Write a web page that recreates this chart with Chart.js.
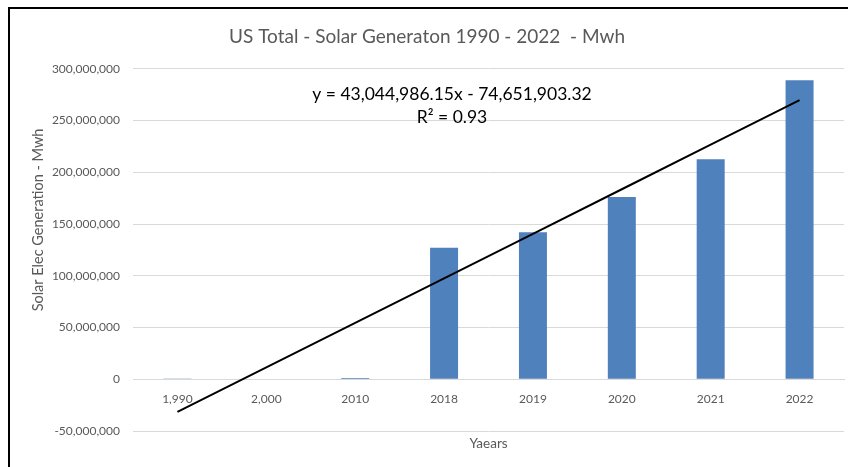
<!DOCTYPE html>
<html>
<head>
<meta charset="utf-8">
<script src="https://cdn.jsdelivr.net/npm/chart.js@4"></script>
<style>
    body { margin: 0; background: #fff; }
    .frame {
        position: absolute;
        left: 8px;
        top: 7px;
        width: 840px;
        height: 460px;
        border-left: 2px solid #000;
        border-top: 2px solid #000;
    }
    .frame canvas { display: block; }
</style>
</head>
<body>
<div class="frame"><canvas id="solarChart" width="838" height="458"></canvas></div>
<script>
// Chart data
const years = ['1,990', '2,000', '2010', '2018', '2019', '2020', '2021', '2022'];
const generation = [367000, 493000, 1212000, 127000000, 142000000, 176000000, 212500000, 289000000];
// Linear trendline values from y = 43,044,986.15x - 74,651,903.32 at x = 1..8
const trendline = [-31606917, 11438069, 54483055, 97528041, 140573028, 183618014, 226663000, 269707986];
const yTicks = [-50000000, 0, 50000000, 100000000, 150000000, 200000000, 250000000, 300000000];
const equationLines = ['y = 43,044,986.15x - 74,651,903.32', 'R\u00b2 = 0.93'];
const xAxisTitle = 'Yaears';
const yAxisTitle = 'Solar Elec Generation - Mwh';

document.addEventListener('DOMContentLoaded', () => {
    const canvas = document.getElementById('solarChart');
    const fontFamily = 'Lato, "Open Sans", sans-serif';
    const grey = '#595959';

    // Draws the trendline equation and the axis titles (placed like Excel does)
    const annotationPlugin = {
        id: 'annotations',
        afterDatasetsDraw(chart) {
            const ctx = chart.ctx;
            const area = chart.chartArea;
            ctx.save();
            ctx.fillStyle = '#000';
            ctx.font = `17.5px ${fontFamily}`;
            ctx.textAlign = 'center';
            ctx.textBaseline = 'middle';
            ctx.fillText(equationLines[0], 442, 85);
            ctx.fillText(equationLines[1], 442, 108);

            ctx.fillStyle = grey;
            ctx.font = `13.5px ${fontFamily}`;
            ctx.fillText(xAxisTitle, (area.left + area.right) / 2, 435);

            ctx.font = `14.5px ${fontFamily}`;
            ctx.translate(28, 211);
            ctx.rotate(-Math.PI / 2);
            ctx.fillText(yAxisTitle, 0, 0);
            ctx.restore();
        }
    };

    new Chart(canvas, {
        data: {
            labels: years,
            datasets: [
                {
                    type: 'line',
                    data: trendline,
                    borderColor: '#000',
                    borderWidth: 2,
                    pointRadius: 0,
                    tension: 0,
                    order: 0
                },
                {
                    type: 'bar',
                    data: generation,
                    backgroundColor: '#4f81bd',
                    categoryPercentage: 1,
                    barPercentage: 0.315,
                    order: 1
                }
            ]
        },
        options: {
            responsive: false,
            animation: false,
            layout: { padding: { right: 4, bottom: 36 } },
            plugins: {
                legend: { display: false },
                tooltip: { enabled: false },
                title: {
                    display: true,
                    text: 'US Total - Solar Generaton 1990 - 2022  - Mwh',
                    color: grey,
                    font: { family: fontFamily, size: 19, weight: 'normal' },
                    padding: { top: 16, bottom: 21 }
                }
            },
            scales: {
                x: {
                    position: { y: 0 },
                    afterFit: (scale) => { scale.height = 0; },
                    grid: { display: false, drawTicks: false },
                    border: { color: '#d9d9d9' },
                    ticks: {
                        color: grey,
                        padding: 13,
                        font: { family: fontFamily, size: 12 }
                    }
                },
                y: {
                    min: -50000000,
                    max: 300000000,
                    afterFit: (scale) => { scale.width = 123; },
                    afterBuildTicks: (scale) => {
                        scale.ticks = yTicks.map(v => ({ value: v }));
                    },
                    grid: { color: '#d9d9d9', drawTicks: false },
                    border: { display: false },
                    ticks: {
                        color: grey,
                        padding: 13,
                        font: { family: fontFamily, size: 12 },
                        callback: (value) => value.toLocaleString('en-US')
                    }
                }
            }
        },
        plugins: [annotationPlugin]
    });
});
</script>
</body>
</html>
